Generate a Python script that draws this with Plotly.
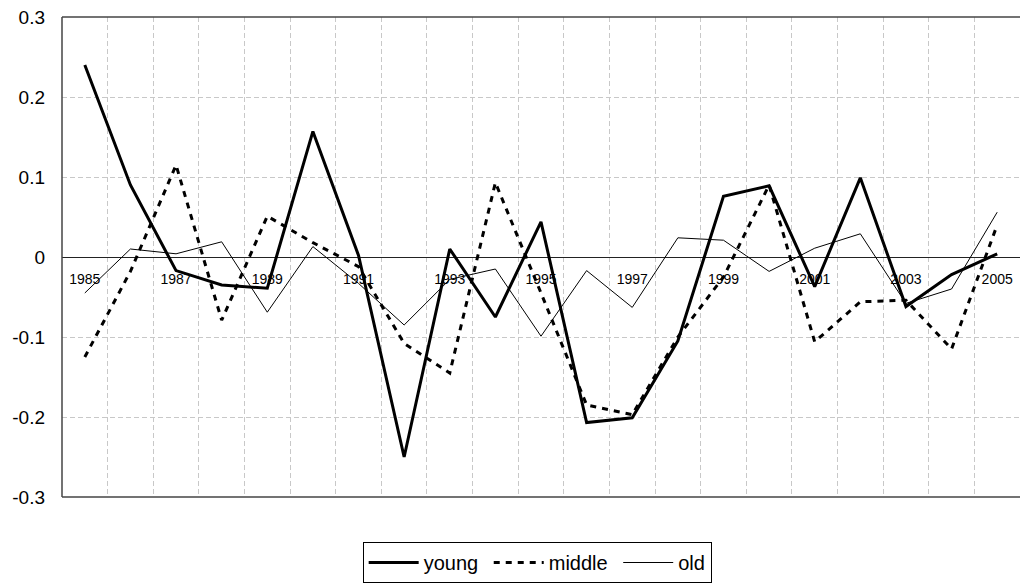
import plotly.graph_objects as go

years = list(range(1985, 2006))
young = [0.240, 0.090, -0.017, -0.035, -0.039, 0.157, 0.002, -0.250, 0.010, -0.075,
         0.044, -0.207, -0.201, -0.105, 0.076, 0.089, -0.037, 0.099, -0.062, -0.022, 0.004]
middle = [-0.125, -0.018, 0.115, -0.079, 0.051, 0.018, -0.012, -0.108, -0.145, 0.093,
          -0.045, -0.185, -0.197, -0.100, -0.025, 0.090, -0.106, -0.056, -0.054, -0.115, 0.040]
old = [-0.045, 0.010, 0.004, 0.019, -0.069, 0.013, -0.033, -0.085, -0.028, -0.015,
       -0.099, -0.017, -0.063, 0.024, 0.021, -0.018, 0.011, 0.029, -0.058, -0.040, 0.056]

x_tick_vals = [1985, 1987, 1989, 1991, 1993, 1995, 1997, 1999, 2001, 2003, 2005]
x_tick_text = [str(v) for v in x_tick_vals]
y_tick_vals = [0.3, 0.2, 0.1, 0, -0.1, -0.2, -0.3]
y_tick_text = ["0.3", "0.2", "0.1", "0", "-0.1", "-0.2", "-0.3"]

fig = go.Figure()
fig.add_trace(go.Scatter(x=years, y=young, name="young\u00a0", mode="lines",
                         line=dict(color="black", width=3)))
fig.add_trace(go.Scatter(x=years, y=middle, name="middle\u00a0", mode="lines",
                         line=dict(color="black", width=3, dash="6px,6px")))
fig.add_trace(go.Scatter(x=years, y=old, name="old", mode="lines",
                         line=dict(color="black", width=1)))

fig.update_layout(
    width=1020, height=583,
    margin=dict(l=62, r=0, t=17, b=86),
    paper_bgcolor="white", plot_bgcolor="white",
    font=dict(family="Liberation Sans, Arial, sans-serif", color="black"),
    showlegend=True,
    legend=dict(orientation="h", x=0.496, xanchor="center", y=-0.094, yanchor="top",
                bordercolor="black", borderwidth=1, bgcolor="white",
                font=dict(size=20), itemwidth=50, tracegroupgap=0),
    xaxis=dict(range=[1984.5, 2005.5], tickmode="array", tickvals=x_tick_vals,
               ticktext=x_tick_text, showgrid=False, zeroline=False, showline=False,
               anchor="free", position=0.5, ticks="", ticklabelstandoff=12,
               tickfont=dict(size=14, color="black"),
               minor=dict(tickmode="linear", tick0=1985.5, dtick=1, showgrid=True,
                          gridcolor="#c8c8c8", griddash="5px,3px", gridwidth=1)),
    yaxis=dict(range=[-0.3, 0.3], tickmode="array", tickvals=y_tick_vals,
               ticktext=y_tick_text, showgrid=True, gridcolor="#c8c8c8",
               griddash="5px,3px", zeroline=True, zerolinecolor="#222",
               zerolinewidth=1, showline=False, ticks="", ticklabelstandoff=16,
               tickfont=dict(size=19, color="black")),
    shapes=[
        dict(type="line", xref="paper", yref="paper", x0=0, x1=1, y0=1, y1=1,
             line=dict(color="#444", width=1.5)),
        dict(type="line", xref="paper", yref="paper", x0=0, x1=1, y0=0, y1=0,
             line=dict(color="#444", width=1.5)),
        dict(type="line", xref="paper", yref="paper", x0=0, x1=0, y0=0, y1=1,
             line=dict(color="#444", width=1.5)),
    ],
)

fig.write_html("out.html", config={"displayModeBar": False},
               post_script="document.body.style.margin='0';")
